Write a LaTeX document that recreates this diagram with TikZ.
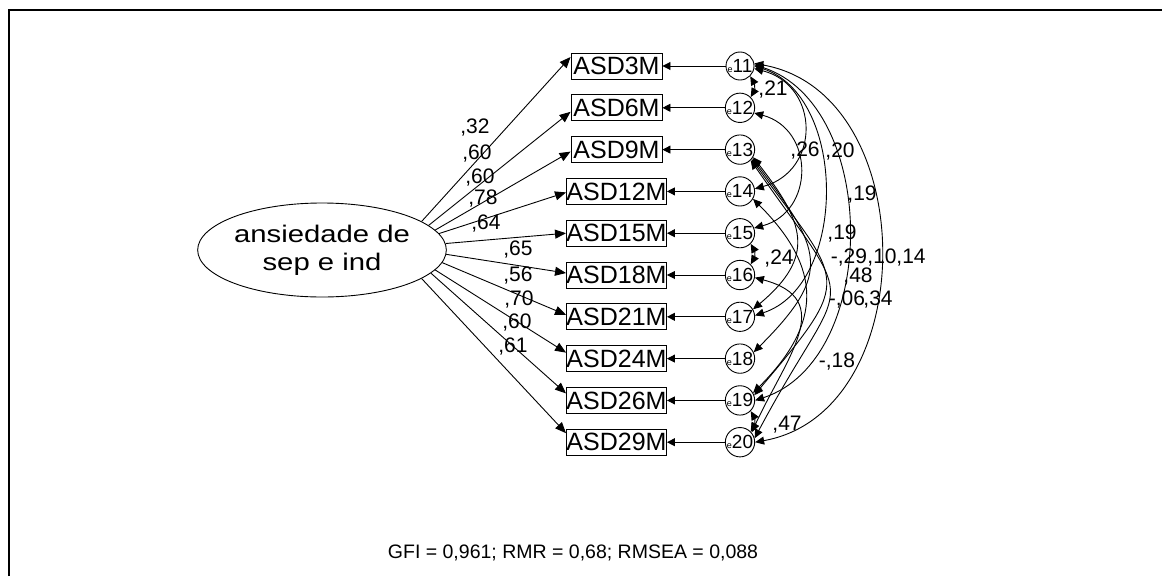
\documentclass[tikz,border=0pt]{standalone}
\usepackage{fontspec}
\usepackage{graphicx}
\setmainfont{Liberation Sans}
\usetikzlibrary{arrows.meta,shapes.geometric}
\newcommand\etext[1]{{\fontsize{9}{9}\selectfont e}{\fontsize{19}{19}\selectfont #1}}
\begin{document}
\begin{tikzpicture}[x=1pt,y=1pt,
  every node/.style={inner sep=0pt},
  lbl/.style={font=\fontsize{21}{21}\selectfont},
  obs/.style={draw, line width=0.9pt, minimum width=91pt, minimum height=26pt,
              font=\fontsize{25}{25}\selectfont},
  err/.style={draw, circle, line width=0.9pt, minimum size=28pt},
  load/.style={line width=0.9pt, -{Triangle[length=11pt,width=9pt]}},
  res/.style={line width=0.9pt, -{Triangle[length=8pt,width=8pt]}},
  cov/.style={line width=0.9pt, {Triangle[length=9pt,width=8pt]}-{Triangle[length=9pt,width=8pt]}},
]
\useasboundingbox (0,0) rectangle (1162,-576);
% frame
\draw[line width=2pt] (9,-576) -- (9,-10) -- (1162,-10);

% latent factor
\node[draw, ellipse, line width=0.9pt, minimum width=214pt, minimum height=94pt,
      align=center, font=\fontsize{24}{28}\selectfont] (lat) at (322,-250)
      {\scalebox{1.22}[1]{ansiedade de}\\\scalebox{1.22}[1]{sep e ind}};

% indicators and their error terms
\foreach \i/\lab [count=\k from 0] in {11/3,12/6,13/9,14/12,15/15,16/18,17/21,18/24,19/26,20/29}{
  \node[obs] (b\i) at (616.5,{-66-41.8*\k}) {ASD\lab M};
  \node[err] (e\i) at (740,{-66-41.8*\k}) {\etext{\i}};
  \draw[res] (e\i) -- (b\i);
}

% loadings
\foreach \i/\a/\s in {11/16/9,12/13/-4,13/10/-2,14/8/-1,15/3/0,16/-2/2,17/-6/2,18/-10/6,19/-12/7,20/-16/9}{
  \draw[load] (lat.\a) -- ([yshift=\s pt]b\i.west);
}
\foreach \n/\t/\x/\y in {l1/{,32}/475/128, l2/{,60}/477/154, l3/{,60}/480/178, l4/{,78}/483/199,
    l5/{,64}/486/224, l6/{,65}/518/250, l7/{,56}/518/276, l8/{,70}/519/300, l9/{,60}/517/323, l10/{,61}/513/347}{
  \node[lbl] (\n) at (\x,-\y) {\t};
}

% error covariances
\draw[cov] (e11.-45) to[out=-60,in=60] (e12.45);
\draw[cov] (e15.-45) to[out=-60,in=60] (e16.45);
\draw[cov] (e19.-45) to[out=-60,in=60] (e20.45);
\draw[cov] (e12.-20) to[bend left=75,looseness=1.4] (e15.20);
\draw[cov] (e11.-10) to[bend left=75,looseness=1.45] (e14.10);
\draw[cov] (e11.0) to[bend left=72] (e17.5);
\draw[cov] (e11.5) to[bend left=72] (e19.0);
\draw[cov] (e11.10) to[bend left=80,looseness=1.15] (e20.0);
\draw[cov] (e13.-30) to[out=-52,in=40,looseness=1.4] (e17.30);
\draw[cov] (e13.-35) to[out=-53,in=45,looseness=1.5] (e18.25);
\draw[cov] (e13.-40) to[out=-54,in=50,looseness=1.7] (e19.20);
\draw[cov] (e13.-45) to[out=-55,in=62,looseness=1.8] (e20.15);
\draw[cov] (e14.-30) to[out=-45,in=45,looseness=1.3] (e19.30);
\draw[cov] (e16.-10) to[out=-15,in=65,looseness=1.4] (e20.40);

\foreach \n/\t/\x/\y in {c1/{,21}/773/90, c2/{,26}/805/151, c3/{,20}/840/152, c4/{,19}/862/195,
    c5/{,19}/842/234, c6/{-,29}/849/258, c7/{,10}/882/258, c8/{,14}/911/258, c9/{,48}/858/277,
    c10/{-,06}/847/300, c11/{,34}/878/300, c12/{-,18}/837/362, c13/{,47}/787/425, c14/{,24}/779/259}{
  \node[lbl] (\n) at (\x,-\y) {\t};
}

% fit indices
\node[font=\fontsize{19.5}{20}\selectfont] (fit) at (573,-553) {GFI = 0,961; RMR = 0,68; RMSEA = 0,088};
\end{tikzpicture}
\end{document}
